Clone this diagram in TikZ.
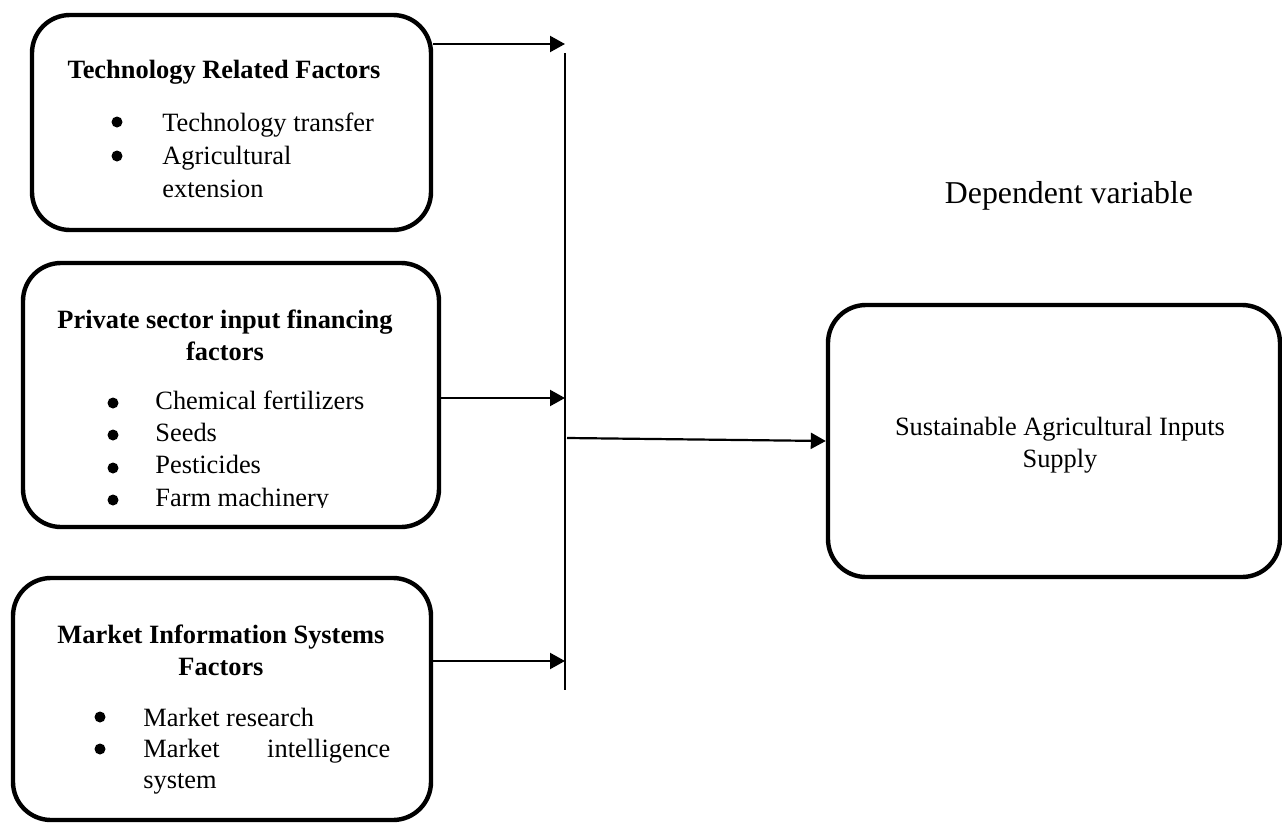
\documentclass[tikz,border=0pt]{standalone}
\usepackage{fontspec}
\setmainfont{Liberation Serif}
\usetikzlibrary{arrows.meta}

\begin{document}
\begin{tikzpicture}[x=0.5pt, y=-0.5pt, font=\fontsize{13.2}{16.2}\selectfont]
\useasboundingbox (0,0) rectangle (1282,825);

\coordinate (barTop) at (565,53);
\coordinate (barBot) at (565,690);
\coordinate (inTech) at (565,44);
\coordinate (inPriv) at (565,398);
\coordinate (inMkt) at (565,661);
\coordinate (outBar) at (567,438);


\tikzset{BoxStyle/.style = {draw, line width=2.2pt, rounded corners=19pt, inner sep=0pt} }

\node[BoxStyle, minimum width=199.5pt, minimum height=107.5pt] (tech) at (231.5,122.5) {};
\node[BoxStyle, minimum width=208pt, minimum height=132pt] (priv) at (231,395) {};
\node[BoxStyle, minimum width=209pt, minimum height=121pt] (mkt) at (222,699) {};
\node[BoxStyle, minimum width=226pt, minimum height=136pt] (supply) at (1054,441) {};


\tikzset{HeadStyle/.style = {inner sep=0pt, anchor=base, font=\fontsize{13.2}{16.2}\selectfont\bfseries},
 ListStyle/.style = {inner sep=0pt, anchor=base west, font=\fontsize{13.2}{#1}\selectfont} }

\node[HeadStyle] (techHead) at (224,78) {Technology Related Factors};
\node[HeadStyle] (privHead) at (225,328) {\begin{tabular}[t]{@{}c@{}}Private sector input financing\\ factors\end{tabular}};
\node[HeadStyle] (mktHead) at (221,643) {\begin{tabular}[t]{@{}c@{}}Market Information Systems\\ Factors\end{tabular}};

\node[ListStyle=16.5pt] (techList) at (162,131) {\begin{tabular}[t]{@{}l@{}}
 Technology transfer\\
 Agricultural\\
 extension
 \end{tabular}};

\begin{scope}
\clip (0,0) rectangle (1282,507);
\node[ListStyle=16.2pt] (privList) at (155,409) {\begin{tabular}[t]{@{}l@{}}
 Chemical fertilizers\\
 Seeds\\
 Pesticides\\
 Farm machinery
 \end{tabular}};
\end{scope}

\node[ListStyle=15.5pt] (mktList) at (143,726) {\begin{tabular}[t]{@{}l@{}}
 Market research\\
 \hbox to 123.5pt{Market\hfill intelligence}\\
 system
 \end{tabular}};

% bullets
\foreach \y in {122,156} \fill (117,\y) circle (5.5);
\foreach \y in {403,435,468,500} \fill (113,\y) circle (5.5);
\foreach \y in {717,749} \fill (100,\y) circle (5.5);

\node[anchor=base, inner sep=0pt] (supplyText) at (1060,435) {\begin{tabular}[t]{@{}c@{}}Sustainable Agricultural Inputs\\ Supply\end{tabular}};
\node[anchor=base, inner sep=0pt, font=\fontsize{15.9}{19}\selectfont] (depLabel) at (1069,203) {Dependent variable};


\tikzset{ArrowStyle/.style = {line width=1.1pt, -{Triangle[length=7.5pt, width=8pt]}} }

\draw[line width=0.8pt] (barTop) -- (barBot);
\draw[ArrowStyle] (tech.east |- inTech) -- (inTech);
\draw[ArrowStyle] (priv.east |- inPriv) -- (inPriv);
\draw[ArrowStyle] (mkt.east |- inMkt) -- (inMkt);
\draw[ArrowStyle] (outBar) -- (supply.west);

\end{tikzpicture}
\end{document}
